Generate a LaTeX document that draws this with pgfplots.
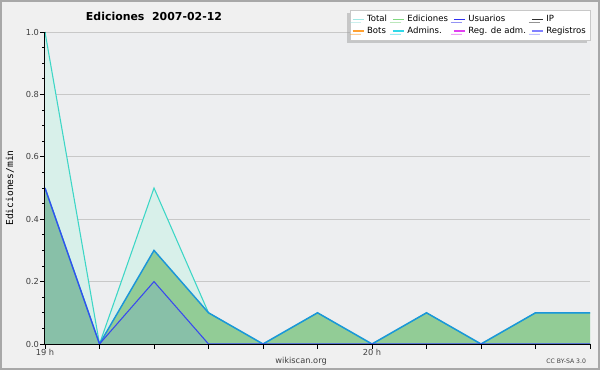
\documentclass[border=0pt]{standalone}
\usepackage{pgfplots}
\pgfplotsset{compat=1.18}
\usepackage{pgfplotstable}
\usepackage{fontspec}
\setmainfont{DejaVu Sans}
\newfontfamily\monofont{DejaVu Sans Mono}
\usetikzlibrary{shadows}
\definecolor{outerbg}{HTML}{F0F0F0}
\definecolor{plotbg}{HTML}{EDEEF0}
\definecolor{frame}{HTML}{A8A8A8}
\definecolor{totalfill}{HTML}{D8F0EA}
\definecolor{totalline}{HTML}{3CD6C6}
\definecolor{edfill}{HTML}{92CC96}
\definecolor{edline}{HTML}{1C96D8}
\definecolor{usfill}{HTML}{88C0A8}
\definecolor{usline}{HTML}{3848F0}
\definecolor{gridc}{HTML}{C8C8C8}
\definecolor{lgTotal}{HTML}{A0E8E4}
\definecolor{lgEd}{HTML}{80D880}
\definecolor{lgUs}{HTML}{3030F0}
\definecolor{lgIP}{HTML}{303030}
\definecolor{lgBots}{HTML}{FFA030}
\definecolor{lgAdm}{HTML}{30D8E8}
\definecolor{lgReg}{HTML}{E040F0}
\definecolor{lgRegis}{HTML}{8080FF}
\definecolor{ticklab}{HTML}{404040}

\pgfplotstableread{
x y
0 1.0
1 0.0
2 0.5
3 0.1
4 0.0
5 0.1
6 0.0
7 0.1
8 0.0
9 0.1
10 0.1
}\total
\pgfplotstableread{
x y
0 0.5
1 0.0
2 0.3
3 0.1
4 0.0
5 0.1
6 0.0
7 0.1
8 0.0
9 0.1
10 0.1
}\ediciones
\pgfplotstableread{
x y
0 0.5
1 0.0
2 0.2
3 0.0
4 0.0
5 0.0
6 0.0
7 0.0
8 0.0
9 0.0
10 0.0
}\usuarios

\begin{document}
\begin{tikzpicture}
\fill[outerbg] (0,0) rectangle (450pt,277.5pt);
\draw[frame, line width=1.2pt] (0.6pt,0.6pt) rectangle (449.4pt,276.9pt);
\begin{axis}[
  at={(33.75pt,19.5pt)}, anchor=south west,
  width=408.75pt, height=234pt, scale only axis,
  xmin=0, xmax=10, ymin=0, ymax=1,
  axis background/.style={fill=plotbg},
  axis x line*=bottom, axis y line*=left,
  axis line style={-, black, line width=0.8pt},
  tick align=outside,
  tick style={black, line width=0.6pt},
  major tick length=3.5pt, minor tick length=2.2pt,
  xtick={0,1,2,3,4,5,6,7,8,9,10},
  xticklabels={19 h,,,,,,20 h,,,,},
  ytick={0,0.2,0.4,0.6,0.8,1.0},
  minor y tick num=3,
  ymajorgrids, grid style={gridc, line width=0.6pt},
  /pgf/number format/assume math mode=true,
  yticklabel={\pgfmathprintnumber[fixed,fixed zerofill,precision=1]{\tick}},
  tick label style={font=\fontsize{6.2}{7}\selectfont, text=ticklab},
  xticklabel style={yshift=3pt},
  yticklabel style={xshift=2.5pt},
  legend columns=4,
  legend style={at={(1,1)}, anchor=north east, yshift=16.5pt, xshift=0.5pt,
    fill=white, draw=gridc, line width=0.4pt,
    drop shadow={shadow xshift=-2.2pt, shadow yshift=-2.2pt, fill=gray!75},
    font=\fontsize{6.4}{7.5}\selectfont, inner sep=1.5pt,
    /tikz/every even column/.append style={column sep=2pt},
    /tikz/every odd column/.append style={column sep=0pt},
    row sep=-1.5pt},
  legend cell align=left,
  legend image code/.code={\draw[#1, line width=0.8pt] (0pt,0pt) -- (8.5pt,0pt);},
]
\addplot[draw=none, fill=totalfill, forget plot] table {\total} \closedcycle;
\addplot[draw=none, fill=edfill, forget plot] table {\ediciones} \closedcycle;
\addplot[draw=none, fill=usfill, forget plot] table {\usuarios} \closedcycle;
\addplot[totalline, line width=0.8pt, forget plot] table {\total};
\addplot[edline, line width=1.1pt, forget plot] table {\ediciones};
\addplot[usline, line width=0.8pt, forget plot] table {\usuarios};
\addlegendimage{lgTotal}
\addlegendentry{Total}
\addlegendimage{lgEd}
\addlegendentry{Ediciones}
\addlegendimage{lgUs}
\addlegendentry{Usuarios}
\addlegendimage{lgIP}
\addlegendentry{IP}
\addlegendimage{lgBots}
\addlegendentry{Bots}
\addlegendimage{lgAdm}
\addlegendentry{Admins.}
\addlegendimage{lgReg}
\addlegendentry{Reg. de adm.}
\addlegendimage{lgRegis}
\addlegendentry{Registros}
\end{axis}
\node[font=\bfseries\fontsize{8.2}{10}\selectfont] at (115.5pt,265.5pt) {Ediciones\ \ 2007-02-12};
\node[rotate=90, font=\monofont\fontsize{7.2}{9}\selectfont] at (7.5pt,136.5pt) {Ediciones/min};
\node[font=\fontsize{6.2}{7}\selectfont, text=ticklab] at (225.75pt,6.9pt) {wikiscan.org};
\node[font=\fontsize{4.6}{5}\selectfont, text=ticklab, anchor=east] at (443pt,6.9pt) {CC BY-SA 3.0};
\end{tikzpicture}
\end{document}
